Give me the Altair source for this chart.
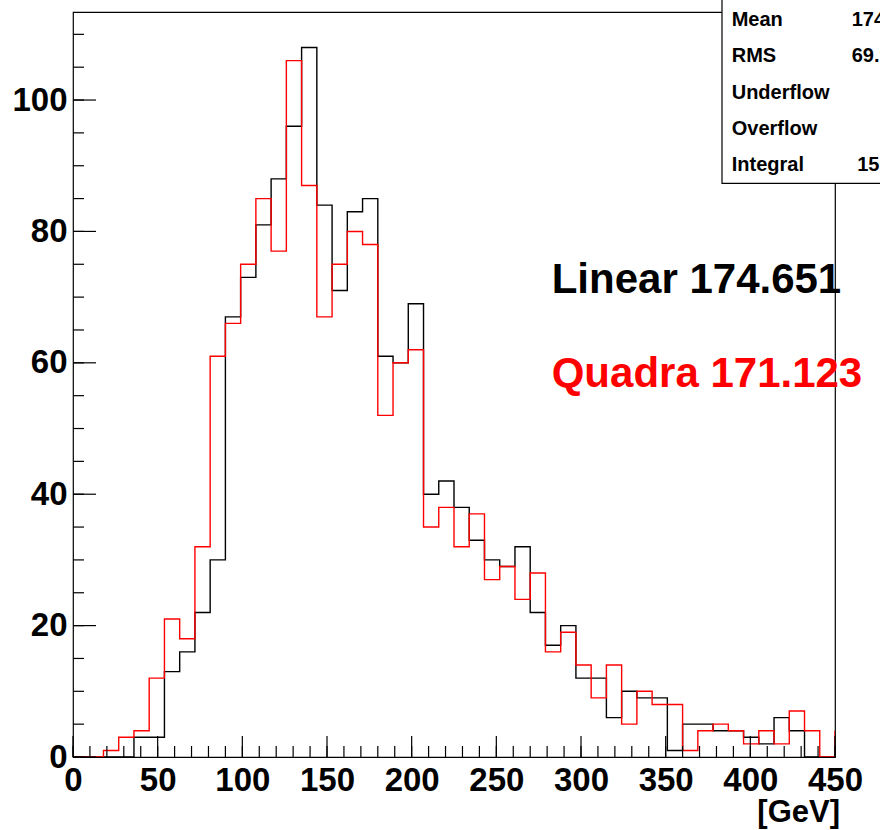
import altair as alt
import pandas as pd

# ---- data ----
bin_width = 9
n_bins = 50
edges = [bin_width * i for i in range(n_bins)]          # lower bin edges, 0 .. 441
x_end = 450

linear_counts = [0, 0, 0, 0, 3, 3, 13, 16, 22, 30,
                 67, 73, 81, 88, 96, 108, 84, 71, 83, 85,
                 61, 60, 69, 40, 42, 38, 33, 30, 29, 32,
                 22, 17, 20, 12, 12, 6, 10, 9, 9, 1,
                 5, 5, 4, 4, 3, 2, 6, 4, 0, 0]
quadra_counts = [0, 0, 1, 3, 4, 12, 21, 18, 32, 61,
                 66, 75, 85, 77, 106, 87, 67, 75, 80, 78,
                 52, 60, 62, 35, 38, 32, 37, 27, 29, 24,
                 28, 16, 19, 14, 9, 14, 5, 10, 8, 8,
                 1, 4, 5, 4, 2, 4, 2, 7, 4, 0]
linear_overflow = 0
quadra_overflow = 4

x_major = [0, 50, 100, 150, 200, 250, 300, 350, 400, 450]
x_minor = list(range(0, 451, 10))
y_major = [0, 20, 40, 60, 80, 100]
y_minor = list(range(0, 111, 5))

stat_names = ["Mean", "RMS", "Underflow", "Overflow", "Integral"]
stat_values = ["174.7", "69.91", "0", "0", "1508"]

label_linear = "Linear 174.651"
label_quadra = "Quadra 171.123"
x_title = "[GeV]"

# ---- geometry ----
W, H = 762, 745
FONT = "Liberation Sans"
stat_baselines = [14, 50.3, 86.6, 122.9, 159.2]

xscale = alt.Scale(domain=[0, 450], nice=False, zero=False)
yscale = alt.Scale(domain=[0, 113.4], nice=False, zero=True)

xaxis = alt.Axis(values=x_major, ticks=False, domain=False, grid=False, title=None,
                 labelFontSize=33, labelFontWeight="bold", labelFont=FONT,
                 labelColor="black", labelPadding=7, labelFlush=False, format="d")
yaxis = alt.Axis(values=y_major, ticks=False, domain=False, grid=False, title=None,
                 labelFontSize=33, labelFontWeight="bold", labelFont=FONT,
                 labelColor="black", labelPadding=6, format="d")


def hist_df(counts, overflow):
    return pd.DataFrame({"x": edges + [x_end], "y": counts + [overflow]})


black_line = alt.Chart(hist_df(linear_counts, linear_overflow)).mark_line(
    interpolate="step-after", color="black", strokeWidth=1.4, clip=True
).encode(x=alt.X("x:Q", scale=xscale, axis=xaxis),
         y=alt.Y("y:Q", scale=yscale, axis=yaxis))

red_line = alt.Chart(hist_df(quadra_counts, quadra_overflow)).mark_line(
    interpolate="step-after", color="#ff0000", strokeWidth=1.4, clip=True
).encode(x=alt.X("x:Q", scale=xscale), y=alt.Y("y:Q", scale=yscale))

# inward ticks
ytick_major = alt.Chart(pd.DataFrame({"v": y_major})).mark_rule(color="black", strokeWidth=1.2).encode(
    y=alt.Y("v:Q", scale=yscale), x=alt.value(0), x2=alt.value(23))
ytick_minor = alt.Chart(pd.DataFrame({"v": y_minor})).mark_rule(color="black", strokeWidth=1.2).encode(
    y=alt.Y("v:Q", scale=yscale), x=alt.value(0), x2=alt.value(11))
xtick_major = alt.Chart(pd.DataFrame({"v": x_major})).mark_rule(color="black", strokeWidth=1.2).encode(
    x=alt.X("v:Q", scale=xscale), y=alt.value(H), y2=alt.value(H - 21))
xtick_minor = alt.Chart(pd.DataFrame({"v": x_minor})).mark_rule(color="black", strokeWidth=1.2).encode(
    x=alt.X("v:Q", scale=xscale), y=alt.value(H), y2=alt.value(H - 11))


def label(text, x, y, size, color="black", align="left"):
    return alt.Chart(pd.DataFrame({"t": [text]})).mark_text(
        align=align, baseline="alphabetic", fontSize=size, fontWeight="bold",
        font=FONT, color=color
    ).encode(text="t:N", x=alt.value(x), y=alt.value(y))


txt_linear = label(label_linear, 478.7, 280.7, 42)
txt_quadra = label(label_quadra, 478.7, 374.7, 42, color="#ff0000")
txt_xtitle = label(x_title, 767, 810, 31, align="right")

# stats box
stats_box = alt.Chart(pd.DataFrame({"a": [0]})).mark_rect(
    fill="white", stroke="black", strokeWidth=1.2
).encode(x=alt.value(649), x2=alt.value(900), y=alt.value(-20), y2=alt.value(171.3))

stat_layers = []
for name, val, yb in zip(stat_names, stat_values, stat_baselines):
    stat_layers.append(label(name, 658.7, yb, 20))
    stat_layers.append(label(val, 828.7, yb, 20, align="right"))

chart = alt.layer(
    black_line, red_line,
    ytick_major, ytick_minor, xtick_major, xtick_minor,
    txt_linear, txt_quadra, txt_xtitle,
    stats_box, *stat_layers,
).properties(
    width=W, height=H,
    autosize=alt.AutoSizeParams(type="none"),
    padding={"left": 73, "right": 45, "top": 12, "bottom": 73},
    background="white",
).configure_view(stroke="black", strokeWidth=1.2)

chart.save("out.html", embed_options={"renderer": "svg", "actions": False})
